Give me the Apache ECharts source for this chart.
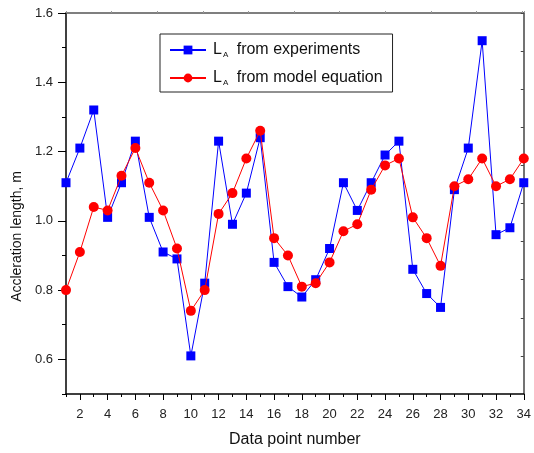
<!DOCTYPE html>
<html>
<head>
<meta charset="utf-8">
<script src="https://cdn.jsdelivr.net/npm/echarts@6/dist/echarts.min.js"></script>
<style>
  html, body { margin: 0; padding: 0; background: #fff; }
  #chart { width: 534px; height: 453px; }
</style>
</head>
<body>
<div id="chart"></div>
<script>
// data point numbers 1..34
const pointNo = [1, 2, 3, 4, 5, 6, 7, 8, 9, 10, 11, 12, 13, 14, 15, 16, 17,
  18, 19, 20, 21, 22, 23, 24, 25, 26, 27, 28, 29, 30, 31, 32, 33, 34]

// L_A from experiments
const expValues = [1.11, 1.21, 1.32, 1.01, 1.11, 1.23, 1.01, 0.91, 0.89, 0.61,
  0.82, 1.23, 0.99, 1.08, 1.24, 0.88, 0.81, 0.78, 0.83, 0.92, 1.11, 1.03, 1.11,
  1.19, 1.23, 0.86, 0.79, 0.75, 1.09, 1.21, 1.52, 0.96, 0.98, 1.11]

// L_A from model equation
const modelValues = [0.80, 0.91, 1.04, 1.03, 1.13, 1.21, 1.11, 1.03, 0.92, 0.74,
  0.80, 1.02, 1.08, 1.18, 1.26, 0.95, 0.90, 0.81, 0.82, 0.88, 0.97, 0.99, 1.09,
  1.16, 1.18, 1.01, 0.95, 0.87, 1.10, 1.12, 1.18, 1.10, 1.12, 1.18]

const xMajor = [2, 4, 6, 8, 10, 12, 14, 16, 18, 20, 22, 24, 26, 28, 30, 32, 34]
const xMinor = [1, 3, 5, 7, 9, 11, 13, 15, 17, 19, 21, 23, 25, 27, 29, 31, 33]
const yMajor = [0.6, 0.8, 1.0, 1.2, 1.4, 1.6]
const yMinor = [0.5, 0.7, 0.9, 1.1, 1.3, 1.5]

const FONT = 'Liberation Sans'

const myChart = echarts.init(document.getElementById('chart'))

const option = {
  animation: false,
  grid: { left: 66, right: 6, top: 13, bottom: 58 },
  legend: {
    orient: 'vertical',
    left: 160,
    top: 34,
    padding: [8, 10, 5, 9],
    itemGap: 11,
    itemWidth: 36,
    itemHeight: 11,
    borderColor: '#222',
    borderWidth: 1,
    data: ['exp', 'model'],
    formatter: function (name) {
      return name === 'exp'
        ? 'L{sub|A} from experiments'
        : 'L{sub|A} from model equation'
    },
    textStyle: {
      fontFamily: FONT,
      fontSize: 16,
      color: '#111',
      padding: [0, 0, 0, 2],
      rich: {
        sub: { fontFamily: FONT, fontSize: 8, color: '#111', padding: [10, 4, 0, 1] }
      }
    }
  },
  xAxis: [
    {
      type: 'value',
      min: 1,
      max: 34,
      position: 'bottom',
      name: 'Data point number',
      nameLocation: 'middle',
      nameGap: 38,
      nameTextStyle: { fontFamily: FONT, fontSize: 16, color: '#111' },
      axisLine: { show: true, lineStyle: { color: '#000', width: 1.5 } },
      axisTick: { show: true, length: 6, customValues: xMajor, lineStyle: { color: '#000' } },
      axisLabel: { customValues: xMajor, fontFamily: FONT, fontSize: 13, color: '#222', margin: 14 },
      splitLine: { show: false }
    },
    {
      type: 'value',
      min: 1,
      max: 34,
      position: 'bottom',
      axisLine: { show: false },
      axisTick: { show: true, length: 3, customValues: xMinor, lineStyle: { color: '#000' } },
      axisLabel: { show: false },
      splitLine: { show: false }
    },
    {
      type: 'value',
      min: 0,
      max: 10.04,
      interval: 1,
      position: 'top',
      axisLine: { show: true, lineStyle: { color: '#555', width: 1.5 } },
      axisTick: { show: true, length: 2, lineStyle: { color: '#999' } },
      axisLabel: { show: false },
      splitLine: { show: false }
    }
  ],
  yAxis: [
    {
      type: 'value',
      min: 0.5,
      max: 1.6,
      position: 'left',
      name: 'Accleration length, m',
      nameLocation: 'middle',
      nameGap: 36,
      nameTextStyle: { fontFamily: FONT, fontSize: 14, color: '#111', padding: [0, 66, 0, 0] },
      axisLine: { show: true, lineStyle: { color: '#000', width: 1.5 } },
      axisTick: { show: true, length: 8, customValues: yMajor, lineStyle: { color: '#000' } },
      axisLabel: {
        customValues: yMajor, fontFamily: FONT, fontSize: 13, color: '#222', margin: 13,
        formatter: function (v) { return v.toFixed(1) }
      },
      splitLine: { show: false }
    },
    {
      type: 'value',
      min: 0.5,
      max: 1.6,
      position: 'left',
      axisLine: { show: false },
      axisTick: { show: true, length: 4, customValues: yMinor, lineStyle: { color: '#000' } },
      axisLabel: { show: false },
      splitLine: { show: false }
    },
    {
      type: 'value',
      min: 0,
      max: 10,
      interval: 1,
      position: 'right',
      axisLine: { show: true, lineStyle: { color: '#444', width: 1.5 } },
      axisTick: { show: true, inside: true, length: 3, lineStyle: { color: '#444' } },
      axisLabel: { show: false },
      splitLine: { show: false }
    }
  ],
  series: [
    {
      name: 'exp',
      type: 'line',
      xAxisIndex: 0,
      yAxisIndex: 0,
      data: pointNo.map((n, i) => [n, expValues[i]]),
      symbol: 'rect',
      symbolSize: 9,
      color: '#0000ff',
      lineStyle: { color: '#0000ff', width: 1 },
      itemStyle: { color: '#0000ff' },
      z: 2
    },
    {
      name: 'model',
      type: 'line',
      xAxisIndex: 0,
      yAxisIndex: 0,
      data: pointNo.map((n, i) => [n, modelValues[i]]),
      symbol: 'circle',
      symbolSize: 10,
      color: '#ff0000',
      lineStyle: { color: '#ff0000', width: 1 },
      itemStyle: { color: '#ff0000' },
      z: 3
    }
  ]
}

myChart.setOption(option)
</script>
</body>
</html>
